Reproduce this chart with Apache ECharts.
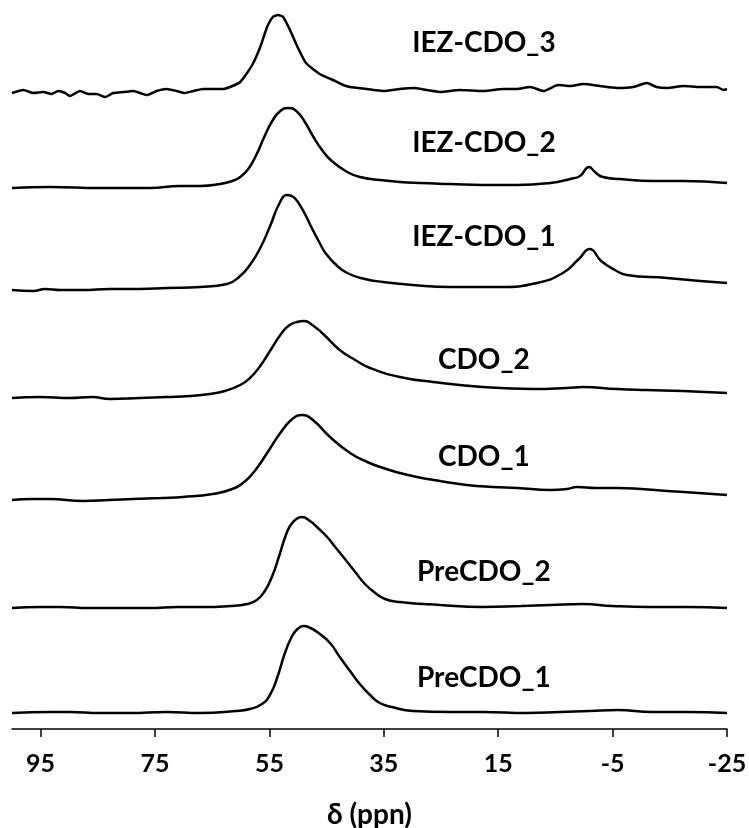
<!DOCTYPE html>
<html>
<head>
<meta charset="utf-8">
<script src="https://cdn.jsdelivr.net/npm/echarts@6/dist/echarts.min.js"></script>
<style>
  html, body { margin: 0; padding: 0; background: #fff; }
  #chart { width: 749px; height: 828px; }
</style>
</head>
<body>
<div id="chart"></div>
<script>
// Chemical shift ticks (ppm), drawn on a reversed axis
const tickValues = [95, 75, 55, 35, 15, -5, -25];

// Sample names, bottom trace first
const sampleNames = ['PreCDO_1', 'PreCDO_2', 'CDO_1', 'CDO_2', 'IEZ-CDO_1', 'IEZ-CDO_2', 'IEZ-CDO_3'];

// Vertical stacking offset of each trace (intensity units)
const traceOffsets = [16, 121, 229, 331, 439, 541, 637];

// Spectra as [ppm, intensity] pairs
const preCDO1 = [
  [100, 0], [93.4, 1], [89.9, 1], [84.6, 0], [79.4, 0], [73.0, 1], [67.1, 0], [61.0, 2],
  [58.4, 4], [56.3, 9], [54.9, 18], [53.6, 36], [52.4, 58], [51.2, 75], [50.1, 84],
  [49.0, 87], [47.8, 85], [46.4, 80], [44.4, 70], [42.7, 56], [40.9, 42], [39.2, 29],
  [37.4, 18], [35.7, 10], [33.6, 6], [29.9, 2], [23.4, 1], [17.7, 1], [10.0, 0],
  [4.2, 1], [-1.0, 2], [-5.8, 3], [-12.0, 1], [-18.0, 1], [-25, 0]
];
const preCDO2 = [
  [100, 0], [95.0, 1], [91.6, 1], [86.5, 0], [82.9, 0], [75.9, 0], [71.0, 1], [67.1, 1],
  [61.9, 2], [58.9, 4], [57.2, 8], [55.8, 17], [54.5, 32], [53.3, 52], [52.3, 70],
  [51.4, 82], [50.3, 89], [49.3, 91], [47.9, 87], [46.5, 80], [44.9, 71], [43.5, 61],
  [41.8, 49], [40.0, 36], [38.3, 24], [36.5, 15], [34.8, 9], [32.2, 6], [25.2, 3],
  [17.7, 1], [11.0, 2], [5.9, 3], [0.2, 4], [-5.0, 2], [-11.5, 1], [-18.0, 1], [-25, 0]
];
const cdo1 = [
  [100, 0], [96.5, 1], [93.4, 1], [87.6, -1], [83.0, 0], [78.8, 1], [74.0, 2], [70.1, 3],
  [64.9, 6], [61.5, 11], [59.2, 19], [57.3, 31], [55.4, 47], [53.1, 67], [51.0, 81], [49.3, 85],
  [47.4, 80], [44.4, 63], [40.9, 47], [37.9, 38], [35.1, 32], [32.2, 27], [29.2, 23],
  [25.2, 19], [20.5, 15], [16.0, 13], [11.7, 12], [5.9, 10], [3.0, 11], [1.2, 13],
  [-2.0, 12], [-5.8, 12], [-10.0, 11], [-14.5, 9], [-20.0, 7], [-25, 5]
];
const cdo2 = [
  [100, 0], [95.1, 1], [89.9, 0], [86.0, 1], [82.9, -1], [77.6, 0], [72.9, 1], [68.9, 2],
  [65.4, 4], [62.8, 7], [60.1, 13], [58.4, 20], [56.6, 32], [54.9, 47], [53.1, 63],
  [51.7, 72], [50.2, 76], [48.9, 77], [47.5, 73], [45.6, 64], [42.7, 48], [40.0, 38],
  [37.4, 30], [32.2, 21], [26.4, 16], [17.7, 11], [8.9, 9], [3.0, 10], [0.2, 11],
  [-5.8, 9], [-11.0, 8], [-17.3, 7], [-25, 5]
];
const iezCDO1 = [
  [100, 0], [96.3, -1], [94.2, 1], [91.6, 0], [87.6, 0], [82.9, 1], [77.6, 1], [72.9, 2],
  [67.1, 3], [62.4, 6], [60.3, 13], [58.4, 25], [56.6, 42], [54.8, 65], [53.3, 86],
  [51.9, 95], [50.8, 93], [49.8, 86], [48.7, 75], [47.5, 61], [46.3, 48], [45.2, 37],
  [43.5, 26], [41.4, 17], [38.3, 11], [35.1, 8], [29.9, 5], [23.4, 3], [14.7, 3],
  [8.2, 7], [3.7, 17], [0.9, 31], [-1.0, 41], [-3.0, 29], [-5.4, 20], [-7.5, 15],
  [-14.5, 12], [-20.3, 9], [-25, 7]
];
const iezCDO2 = [
  [100, 0], [93.4, 1], [84.6, 0], [75.9, 0], [70.6, 2], [67.1, 2], [63.6, 4], [61.5, 7],
  [60.1, 11], [58.7, 19], [57.3, 33], [55.9, 51], [54.5, 67], [53.1, 77], [51.7, 80],
  [50.3, 77], [48.8, 66], [47.4, 52], [45.8, 38], [44.1, 27], [41.4, 16], [39.2, 11],
  [35.7, 8], [32.2, 6], [28.7, 5], [23.4, 4], [17.7, 3], [11.7, 3], [5.9, 5], [2.4, 9],
  [0.7, 12], [-0.9, 21], [-1.9, 16], [-3.3, 11], [-6.3, 9], [-12.1, 7], [-17.3, 7], [-25, 5]
];
const iezCDO3 = [
  [100, -1], [98.0, 2], [96.3, -1], [94.5, 0], [93.1, -2], [91.9, 1], [90.7, -1], [89.9, -4],
  [88.1, 1], [86.7, -2], [85.2, -2], [83.7, -5], [82.3, -1], [80.5, 0], [78.8, 1], [77.6, -1],
  [76.5, -3], [74.7, 1], [73.0, 3], [71.2, 1], [69.8, -1], [68.3, 1], [66.6, 3], [64.8, 3],
  [63.1, 3], [61.9, 5], [60.1, 10], [58.0, 27], [56.6, 45], [55.4, 65], [54.4, 75],
  [53.5, 77], [52.6, 75], [51.4, 62], [50.0, 44], [48.6, 29], [46.2, 18], [43.9, 12],
  [42.1, 7], [40.9, 5], [38.0, 3], [35.1, 1], [32.2, 3], [29.8, 4], [27.5, 2], [25.2, 0],
  [21.7, 2], [17.6, 1], [14.1, 3], [11.8, 3], [9.4, 5], [7.1, 1], [4.5, 7], [2.4, 6],
  [0.1, 8], [-2.8, 6], [-5.7, 4], [-8.6, 5], [-11.0, 9], [-12.7, 5], [-14.5, 4], [-17.4, 6],
  [-20.3, 5], [-23.2, 5], [-24.4, 2], [-25, 3]
];

const spectra = [preCDO1, preCDO2, cdo1, cdo2, iezCDO1, iezCDO2, iezCDO3];

// Where each sample name sits: shift position and height above its baseline
const labelPpm = 17.5;
const labelLift = [35, 36, 43, 38, 53, 45, 49];

const fontFamily = 'Lato, "Open Sans", sans-serif';

const series = spectra.map((pts, i) => ({
  type: 'line',
  name: sampleNames[i],
  data: pts.map(([ppm, v]) => [ppm, v + traceOffsets[i]]),
  showSymbol: false,
  smooth: i === 6 ? 0.2 : 0.5,
  lineStyle: { color: '#000', width: 2.5 },
  silent: true,
  markPoint: {
    silent: true,
    symbol: 'circle',
    symbolSize: 0,
    data: [{ coord: [labelPpm, traceOffsets[i] + labelLift[i]] }],
    label: {
      show: true,
      position: 'inside',
      formatter: sampleNames[i],
      color: '#000',
      fontFamily: fontFamily,
      fontWeight: 'bold',
      fontSize: 28
    }
  }
}));

const chart = echarts.init(document.getElementById('chart'), null, { renderer: 'canvas' });
chart.setOption({
  animation: false,
  backgroundColor: '#fff',
  grid: { left: 12, right: 22, top: 9, bottom: 99, containLabel: false, outerBoundsMode: 'none' },
  xAxis: {
    type: 'value',
    min: -25,
    max: 100,
    inverse: true,
    name: 'δ (ppn)',
    nameLocation: 'middle',
    nameGap: 72,
    nameTextStyle: { color: '#000', fontFamily: fontFamily, fontWeight: 'bold', fontSize: 28 },
    axisLine: { show: true, onZero: false, lineStyle: { color: '#000', width: 1.5 } },
    axisTick: { show: true, inside: false, length: 8, customValues: tickValues, lineStyle: { color: '#000', width: 1.5 } },
    axisLabel: {
      show: true,
      customValues: tickValues,
      margin: 22,
      color: '#000',
      fontFamily: fontFamily,
      fontWeight: 'bold',
      fontSize: 25
    },
    splitLine: { show: false }
  },
  yAxis: {
    type: 'value',
    min: 0,
    max: 720,
    show: false,
    splitLine: { show: false }
  },
  series: series
});
</script>
</body>
</html>
